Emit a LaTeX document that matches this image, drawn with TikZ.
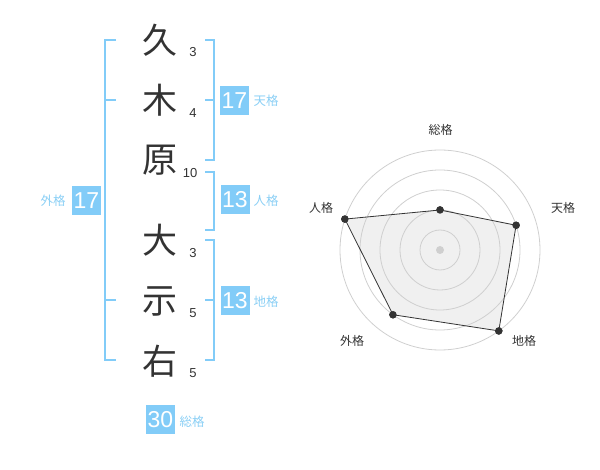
\documentclass[tikz,border=0pt]{standalone}
\usepackage{fontspec}
\setmainfont{Noto Sans CJK JP}
\newfontfamily\digitfont{Liberation Sans}
\definecolor{kblue}{HTML}{82CCF8}
\definecolor{klab}{HTML}{8ACFF5}
\definecolor{kdark}{HTML}{333333}
\definecolor{kring}{HTML}{CFCFCF}
\definecolor{kfill}{HTML}{F0F0F0}
\begin{document}
\begin{tikzpicture}[x=1pt,y=-1pt,
  kanji/.style={font=\fontsize{35}{35}\selectfont, text=kdark, inner sep=0pt},
  strk/.style={font=\digitfont\fontsize{13}{13}\selectfont, text=kdark, inner sep=0pt},
  kbox/.style={fill=kblue, text=white, minimum size=29pt, inner sep=0pt, font=\digitfont\fontsize{23}{23}\selectfont},
  klabel/.style={text=klab, font=\fontsize{12.5}{12.5}\selectfont, inner sep=0pt},
  brk/.style={draw=kblue, line width=2pt},
  ring/.style={draw=kring, line width=0.8pt},
  rlabel/.style={text=kdark, font=\fontsize{12}{12}\selectfont, inner sep=0pt},
  rdot/.style={circle, fill=kdark, minimum size=7.5pt, inner sep=0pt},
  rline/.style={draw=kdark, line width=0.8pt}]
\useasboundingbox (0,0) rectangle (600,470);
% name characters
\node[kanji] (k1) at (160,40) {久};
\node[kanji] (k2) at (160,100) {木};
\node[kanji] (k3) at (160,160) {原};
\node[kanji] (k4) at (160,240) {大};
\node[kanji] (k5) at (160,301) {示};
\node[kanji] (k6) at (160,361) {右};
% stroke counts
\node[strk] (s1) at (193,52) {3};
\node[strk] (s2) at (193,113) {4};
\node[strk] (s3) at (190,173) {10};
\node[strk] (s4) at (193,253) {3};
\node[strk] (s5) at (193,313) {5};
\node[strk] (s6) at (193,373) {5};
% brackets
\draw[brk] (116,40) -- (105,40) -- (105,360) -- (116,360);
\draw[brk] (105,100) -- (116,100);
\draw[brk] (105,300) -- (116,300);
\draw[brk] (205,40) -- (214,40) -- (214,160) -- (205,160);
\draw[brk] (205,100) -- (214,100);
\draw[brk] (205,172) -- (214,172) -- (214,230) -- (205,230);
\draw[brk] (205,240) -- (214,240) -- (214,360) -- (205,360);
\draw[brk] (205,300) -- (214,300);
% boxes and labels
\node[kbox] (b1) at (234.5,100.5) {17};
\node[klabel] (l1) at (266,101) {天格};
\node[kbox] (b2) at (235,200) {13};
\node[klabel] (l2) at (266,201) {人格};
\node[kbox] (b3) at (235,300.5) {13};
\node[klabel] (l3) at (266,302) {地格};
\node[kbox] (b4) at (86.5,200.5) {17};
\node[klabel] (l4) at (53,201) {外格};
\node[kbox] (b5) at (160.5,419.5) {30};
\node[klabel] (l5) at (192,422) {総格};
% radar chart
\coordinate (C) at (440,250);
\path (C) ++(90:40pt) node[rdot] (d1) {};
\path (C) ++(18:80pt) node[rdot] (d2) {};
\path (C) ++(-54:100pt) node[rdot] (d3) {};
\path (C) ++(-126:80pt) node[rdot] (d4) {};
\path (C) ++(162:100pt) node[rdot] (d5) {};
\fill[kfill] (d1.center) -- (d2.center) -- (d3.center) -- (d4.center) -- (d5.center) -- cycle;
\foreach \r in {20,40,60,80,100} \draw[ring] (C) circle[radius=\r pt];
\node[circle, fill=kring, minimum size=8pt, inner sep=0pt] (c0) at (C) {};
\draw[rline] (d1.center) -- (d2.center) -- (d3.center) -- (d4.center) -- (d5.center) -- cycle;
\path (C) ++(90:40pt) node[rdot] {};
\path (C) ++(18:80pt) node[rdot] {};
\path (C) ++(-54:100pt) node[rdot] {};
\path (C) ++(-126:80pt) node[rdot] {};
\path (C) ++(162:100pt) node[rdot] {};
\node[rlabel] (r1) at (440.5,130) {総格};
\node[rlabel] (r2) at (563,208) {天格};
\node[rlabel] (r3) at (524,341) {地格};
\node[rlabel] (r4) at (352,341) {外格};
\node[rlabel] (r5) at (321,208) {人格};
\end{tikzpicture}
\end{document}
